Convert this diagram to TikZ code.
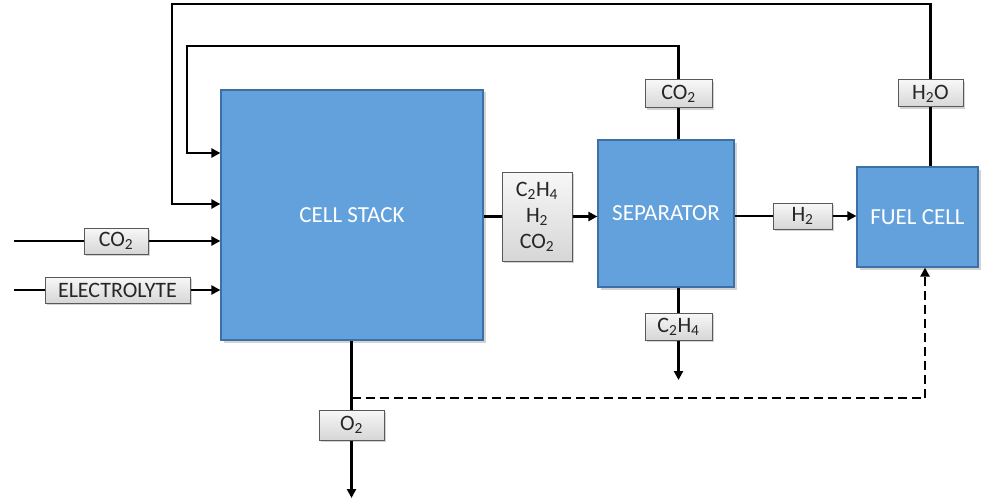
\documentclass[tikz,border=0pt]{standalone}
\usepackage{fontspec}
\setmainfont{Carlito}
\usetikzlibrary{arrows.meta,shadows}
\definecolor{blockblue}{RGB}{99,161,221}
\definecolor{blockedge}{RGB}{62,112,168}
\begin{document}
\begin{tikzpicture}[x=1pt,y=-1pt,
  blk/.style={draw=blockedge,line width=1.2pt,fill=blockblue,text=white,inner sep=0pt,
    font=\fontsize{23}{27}\selectfont,
    drop shadow={shadow xshift=2.5pt,shadow yshift=-2.5pt,opacity=0.35}},
  tag/.style={draw=gray!70!black,line width=1pt,top color=gray!6,bottom color=gray!32,
    inner sep=0pt,font=\fontsize{22}{26}\selectfont,text=black!85,
    drop shadow={shadow xshift=2pt,shadow yshift=-2pt,opacity=0.35}},
  ln/.style={line width=2.4pt,black},
  arr/.style={ln,-{Triangle[length=9pt,width=9pt]}}]
\useasboundingbox (0,0) rectangle (998,500);

% blocks
\node[blk,minimum width=262,minimum height=250] (cs) at (352,215) {CELL STACK};
\node[blk,minimum width=136,minimum height=147] (sep) at (666,213.5) {SEPARATOR};
\node[blk,minimum width=121,minimum height=100] (fc) at (917.5,217) {FUEL CELL};

% tags
\node[tag,minimum width=70,minimum height=89,align=center] (mix) at (537,216.5)
  {C\textsubscript{2}H\textsubscript{4}\\H\textsubscript{2}\\CO\textsubscript{2}};
\node[tag,minimum width=67,minimum height=28] (co2top) at (678.5,94) {CO\textsubscript{2}};
\node[tag,minimum width=65,minimum height=27] (h2o) at (930.5,93.5) {H\textsubscript{2}O};
\node[tag,minimum width=64,minimum height=26] (co2in) at (116,241) {CO\textsubscript{2}};
\node[tag,minimum width=145,minimum height=26] (elec) at (117.5,290) {ELECTROLYTE};
\node[tag,minimum width=59,minimum height=26] (h2) at (802.5,216) {H\textsubscript{2}};
\node[tag,minimum width=67,minimum height=27] (c2h4) at (678.5,326.5) {C\textsubscript{2}H\textsubscript{4}};
\node[tag,minimum width=65,minimum height=30] (o2) at (351.5,425) {O\textsubscript{2}};

% coordinates
\coordinate (a1) at (187,46);
\coordinate (a2) at (187,153);
\coordinate (b1) at (172,4);
\coordinate (b2) at (172,204);
\coordinate (in1) at (14,241);
\coordinate (in2) at (14,290);
\coordinate (c2end) at (678.5,380);
\coordinate (o2end) at (351.5,498);
\coordinate (d1) at (351.5,398);
\coordinate (d2) at (925,398);

% recycle loops
\draw[arr] (co2top.north) |- (a1) -- (a2) -- (a2 -| cs.west);
\draw[arr] (h2o.north) |- (b1) -- (b2) -- (b2 -| cs.west);
\draw[ln] (co2top.south) -- (co2top.south |- sep.north);
\draw[ln] (h2o.south) -- (h2o.south |- fc.north);

% inputs
\draw[ln] (in1) -- (co2in.west);
\draw[arr] (co2in.east) -- (co2in.east -| cs.west);
\draw[ln] (in2) -- (elec.west);
\draw[arr] (elec.east) -- (elec.east -| cs.west);

% main stream
\draw[ln] (cs.east |- mix.west) -- (mix.west);
\draw[arr] (mix.east) -- (mix.east -| sep.west);
\draw[ln] (sep.east |- h2.west) -- (h2.west);
\draw[arr] (h2.east) -- (h2.east -| fc.west);

% separator bottom
\draw[ln] (c2h4.north |- sep.south) -- (c2h4.north);
\draw[arr] (c2h4.south) -- (c2end);

% O2
\draw[ln] (o2.north |- cs.south) -- (o2.north);
\draw[arr] (o2.south) -- (o2end);
\draw[ln,dash pattern=on 9pt off 5pt,-{Triangle[length=9pt,width=9pt]}] (d1) -- (d2) -- (d2 |- fc.south);
\end{tikzpicture}
\end{document}
